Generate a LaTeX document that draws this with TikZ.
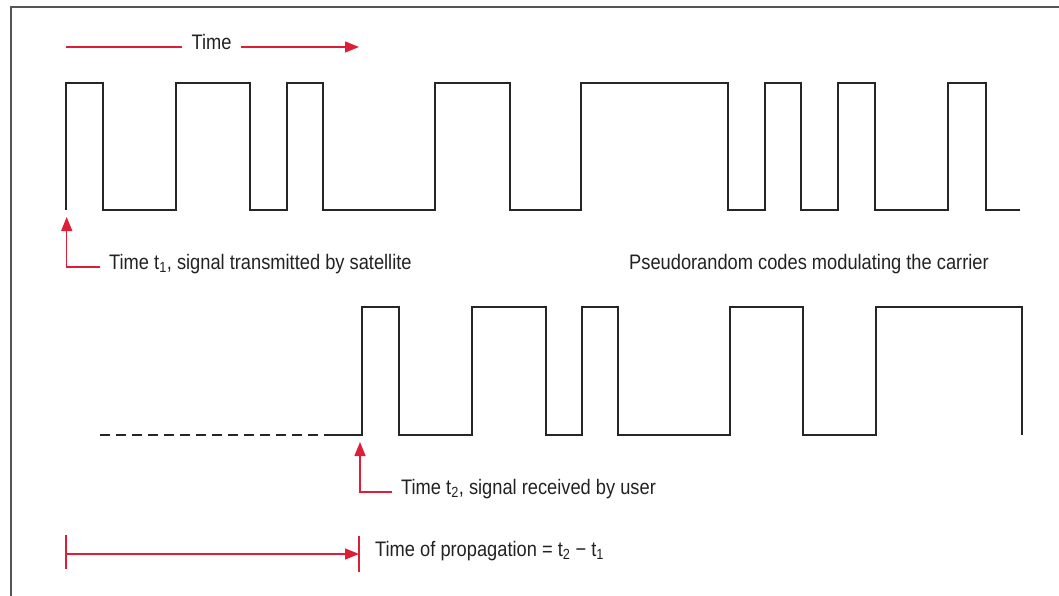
\documentclass[tikz,border=0pt]{standalone}
\usepackage{fontspec}
\setmainfont[FakeStretch=0.87]{Liberation Sans}
\usetikzlibrary{arrows.meta,calc}
\definecolor{arrred}{RGB}{222,30,55}
\definecolor{framegray}{RGB}{85,85,85}
\definecolor{txt}{RGB}{34,34,34}
\begin{document}
\begin{tikzpicture}[x=1pt,y=-1pt,
  font=\fontsize{21}{24}\selectfont,
  sig/.style={line width=1.7pt, black!85, line join=miter},
  redline/.style={arrred, line width=1.4pt},
  redarrow/.style={redline, -{Triangle[length=14pt,width=11pt]}},
  lbl/.style={anchor=mid west, inner xsep=9pt, inner ysep=0pt, text=txt}]
\useasboundingbox (0,0) rectangle (1059,596);
% frame
\draw[framegray, line width=2.2pt] (11,596) -- (11,7) -- (1059,7);
% time arrow
\node[lbl, anchor=mid] (time) at (211.5,47) {Time};
\coordinate (tl) at (66,47);
\coordinate (tr) at (359,47);
\draw[redline] (tl) -- (time.mid west);
\draw[redarrow] (time.mid east) -- (tr);
% transmitted signal
\draw[sig] (66,210) -- (66,83) -- (103,83) -- (103,210) -- (176,210) -- (176,83) -- (250,83) -- (250,210) -- (287,210) -- (287,83) -- (323,83) -- (323,210) -- (435,210) -- (435,83) -- (510,83) -- (510,210) -- (581,210) -- (581,83) -- (728,83) -- (728,210) -- (765,210) -- (765,83) -- (801,83) -- (801,210) -- (838,210) -- (838,83) -- (875,83) -- (875,210) -- (948,210) -- (948,83) -- (986,83) -- (986,210) -- (1020,210);
% received signal
\draw[sig, dash pattern=on 10pt off 6pt] (100,435) -- (326,435);
\draw[sig] (326,435) -- (362,435) -- (362,307) -- (399,307) -- (399,435) -- (472,435) -- (472,307) -- (546,307) -- (546,435) -- (582,435) -- (582,307) -- (618,307) -- (618,435) -- (730,435) -- (730,307) -- (803,307) -- (803,435) -- (876,435) -- (876,307) -- (1022,307) -- (1022,435);
% t1
\node[lbl] (t1lab) at (100,267) {Time t\textsubscript{1}, signal transmitted by satellite};
\coordinate (t1tip) at (66.7,217);
\draw[redarrow] (t1lab.mid west) -| (t1tip);
% pseudorandom
\node[lbl] (prn) at (620,267) {Pseudorandom codes modulating the carrier};
% t2
\node[lbl] (t2lab) at (392,492) {Time t\textsubscript{2}, signal received by user};
\coordinate (t2tip) at (360,442);
\draw[redarrow] (t2lab.mid west) -| (t2tip);
% propagation
\coordinate (pA) at (66,554);
\coordinate (pB) at (359,554);
\draw[redarrow] (pA) -- (pB);
\draw[redline] ($(pA)+(0,-19)$) -- ($(pA)+(0,15)$);
\draw[redline] ($(pB)+(0,-18)$) -- ($(pB)+(0,18)$);
\node[lbl] (prop) at (366,554) {Time of propagation = t\textsubscript{2} − t\textsubscript{1}};
\end{tikzpicture}
\end{document}
